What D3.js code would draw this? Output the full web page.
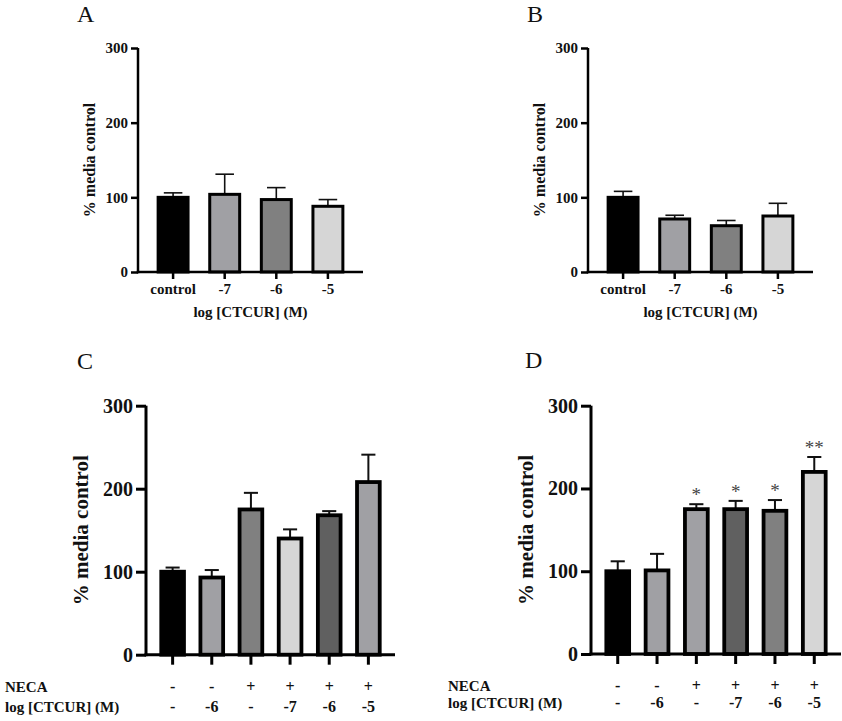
<!DOCTYPE html>
<html>
<head>
<meta charset="utf-8">
<script src="https://cdn.jsdelivr.net/npm/d3@7"></script>
<style>
html,body{margin:0;padding:0;background:#fff;}
svg{display:block;}
</style>
</head>
<body>
<svg id="chart" width="842" height="721"></svg>
<script>
// ---------- data ----------
const yTicks = [0, 100, 200, 300];

const panelACategories = ["control", "-7", "-6", "-5"];
const panelAMeans = [100, 104, 97, 88];
const panelAErrors = [6, 27, 16, 9];

const panelBCategories = ["control", "-7", "-6", "-5"];
const panelBMeans = [100, 71, 62, 75];
const panelBErrors = [8, 5, 7, 17];

const panelCNECA = ["-", "-", "+", "+", "+", "+"];
const panelCCTCUR = ["-", "-6", "-", "-7", "-6", "-5"];
const panelCMeans = [100, 93, 175, 140, 168, 208];
const panelCErrors = [5, 9, 20, 11, 5, 33];

const panelDNECA = ["-", "-", "+", "+", "+", "+"];
const panelDCTCUR = ["-", "-6", "-", "-7", "-6", "-5"];
const panelDMeans = [100, 101, 175, 175, 173, 220];
const panelDErrors = [12, 20, 6, 10, 13, 18];
const panelDSignificance = ["", "", "*", "*", "*", "**"];

const yTitle = "% media control";
const xTitle = "log [CTCUR] (M)";
const necaLabel = "NECA";

// ---------- styles ----------
const fillsAB = ["#000000", "#a0a0a4", "#808080", "#d6d6d6"];
const fillsC = ["#000000", "#a0a0a4", "#808080", "#d6d6d6", "#606060", "#a0a0a4"];
const fillsD = ["#000000", "#a0a0a4", "#a0a0a4", "#606060", "#808080", "#d6d6d6"];

const svg = d3.select("#chart");
const FONT = "'Liberation Serif', 'Times New Roman', serif";

function drawPanel(cfg) {
  const g = svg.append("g");
  const n = cfg.means.length;
  const x = d3.scaleBand().domain(d3.range(n)).range([cfg.x0, cfg.x1])
    .paddingInner(0.42).paddingOuter(0.39);
  const y = d3.scaleLinear().domain([0, 300]).range([cfg.yBottom, cfg.yTop]);

  // panel letter
  svg.append("text").attr("x", cfg.letterX).attr("y", cfg.letterY)
    .attr("font-family", FONT).attr("font-size", 24).attr("fill", "#111")
    .text(cfg.letter);

  // error bars (upper only)
  const capW = x.bandwidth() * 0.62;
  const eg = g.append("g").attr("stroke", "#111").attr("stroke-width", cfg.errW).attr("fill", "none");
  cfg.means.forEach((m, i) => {
    const cx = x(i) + x.bandwidth() / 2;
    eg.append("line").attr("x1", cx).attr("x2", cx)
      .attr("y1", y(m)).attr("y2", y(m + cfg.errors[i]));
    eg.append("line").attr("x1", cx - capW / 2).attr("x2", cx + capW / 2)
      .attr("y1", y(m + cfg.errors[i])).attr("y2", y(m + cfg.errors[i]));
  });

  // bars
  g.selectAll("rect.bar").data(cfg.means).join("rect")
    .attr("class", "bar")
    .attr("x", (d, i) => x(i))
    .attr("width", x.bandwidth())
    .attr("y", d => y(d))
    .attr("height", d => y(0) - y(d))
    .attr("fill", (d, i) => cfg.fills[i])
    .attr("stroke", "#000")
    .attr("stroke-width", cfg.barStroke);

  // significance
  if (cfg.sig) {
    cfg.sig.forEach((s, i) => {
      if (!s) return;
      g.append("text")
        .attr("x", x(i) + x.bandwidth() / 2)
        .attr("y", y(cfg.means[i] + cfg.errors[i]) - 3)
        .attr("text-anchor", "middle")
        .attr("font-family", FONT).attr("font-size", 19)
        .attr("fill", "#444").text(s);
    });
  }

  // y axis
  const ya = g.append("g").attr("transform", `translate(${cfg.x0},0)`)
    .call(d3.axisLeft(y).tickValues(yTicks).tickFormat(d3.format("d"))
      .tickSize(cfg.tickLen).tickSizeOuter(0).tickPadding(3));
  ya.select(".domain").attr("stroke", "#000").attr("stroke-width", cfg.axisW)
    .attr("d", `M0,${y(300)}V${y(0) + cfg.axisW / 2}`);
  ya.selectAll(".tick line").attr("stroke", "#000").attr("stroke-width", cfg.axisW);
  ya.selectAll(".tick text").attr("font-family", FONT).attr("font-weight", "bold")
    .attr("font-size", cfg.yTickFont).attr("fill", "#111");

  // x axis
  const xa = g.append("g").attr("transform", `translate(0,${cfg.yBottom})`)
    .call(d3.axisBottom(x).tickSize(cfg.tickLen).tickSizeOuter(0)
      .tickFormat(i => cfg.categories ? cfg.categories[i] : "").tickPadding(4));
  xa.select(".domain").attr("stroke", "#000").attr("stroke-width", cfg.axisW)
    .attr("d", `M${cfg.x0 - cfg.axisW / 2},0H${cfg.x1}`);
  xa.selectAll(".tick line").attr("stroke", "#000").attr("stroke-width", cfg.axisW);
  xa.selectAll(".tick text").attr("font-family", FONT).attr("font-weight", "bold")
    .attr("font-size", 15).attr("fill", "#111");

  // y title
  g.append("text")
    .attr("transform", `translate(${cfg.yTitleX},${(cfg.yTop + cfg.yBottom) / 2}) rotate(-90)`)
    .attr("text-anchor", "middle")
    .attr("font-family", FONT).attr("font-weight", "bold")
    .attr("font-size", cfg.yTitleFont).attr("fill", "#111")
    .text(yTitle);

  // x title
  if (cfg.categories) {
    g.append("text").attr("x", (cfg.x0 + cfg.x1) / 2).attr("y", cfg.xTitleY)
      .attr("text-anchor", "middle")
      .attr("font-family", FONT).attr("font-weight", "bold")
      .attr("font-size", 15).attr("fill", "#111").text(xTitle);
  }

  // bottom treatment rows
  if (cfg.neca) {
    const rows = [[necaLabel, cfg.neca, cfg.row1Y], [xTitle, cfg.ctcur, cfg.row2Y]];
    rows.forEach(([lab, vals, yy]) => {
      g.append("text").attr("x", cfg.rowLabelX).attr("y", yy)
        .attr("font-family", FONT).attr("font-weight", "bold")
        .attr("font-size", 15).attr("fill", "#111").text(lab);
      vals.forEach((v, i) => {
        g.append("text").attr("x", x(i) + x.bandwidth() / 2).attr("y", yy)
          .attr("text-anchor", "middle")
          .attr("font-family", FONT).attr("font-weight", "bold")
          .attr("font-size", 16).attr("fill", "#111").text(v);
      });
    });
  }
}

drawPanel({
  letter: "A", letterX: 77, letterY: 22,
  x0: 138, x1: 363, yTop: 48, yBottom: 272,
  means: panelAMeans, errors: panelAErrors, categories: panelACategories,
  fills: fillsAB, barStroke: 3, axisW: 2.5, errW: 1.6, tickLen: 7,
  yTickFont: 15, yTitleFont: 16, yTitleX: 95, xTitleY: 317
});

drawPanel({
  letter: "B", letterX: 527, letterY: 22,
  x0: 588, x1: 813, yTop: 48, yBottom: 272,
  means: panelBMeans, errors: panelBErrors, categories: panelBCategories,
  fills: fillsAB, barStroke: 3, axisW: 2.5, errW: 1.6, tickLen: 7,
  yTickFont: 15, yTitleFont: 16, yTitleX: 545, xTitleY: 317
});

drawPanel({
  letter: "C", letterX: 77, letterY: 369,
  x0: 146, x1: 395, yTop: 405.7, yBottom: 654.7,
  means: panelCMeans, errors: panelCErrors,
  neca: panelCNECA, ctcur: panelCCTCUR, rowLabelX: 5, row1Y: 692, row2Y: 712,
  fills: fillsC, barStroke: 3.8, axisW: 3, errW: 2, tickLen: 10,
  yTickFont: 20, yTitleFont: 21, yTitleX: 88
});

drawPanel({
  letter: "D", letterX: 525, letterY: 368,
  x0: 591, x1: 841, yTop: 405.7, yBottom: 654,
  means: panelDMeans, errors: panelDErrors, sig: panelDSignificance,
  neca: panelDNECA, ctcur: panelDCTCUR, rowLabelX: 448, row1Y: 691, row2Y: 708,
  fills: fillsD, barStroke: 3.8, axisW: 3, errW: 2, tickLen: 10,
  yTickFont: 20, yTitleFont: 21, yTitleX: 533
});
</script>
</body>
</html>
